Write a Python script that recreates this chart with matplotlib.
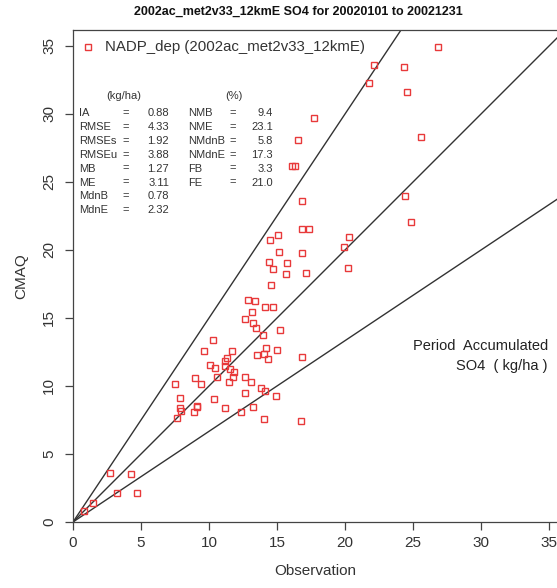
"""
CMAQ vs NADP scatter — period accumulated SO4 deposition, 2002.
"""

import matplotlib
matplotlib.use("Agg")
import matplotlib.pyplot as plt
import numpy as np

plt.rcParams['font.family'] = ['Liberation Sans', 'DejaVu Sans']

# -----------------------------------------------------------------------
# Data
# -----------------------------------------------------------------------
obs = [0.81, 1.49, 2.72, 4.24, 3.26, 4.73,
       7.50, 7.89, 7.89, 7.92, 7.62, 9.00, 9.44, 9.09, 9.15, 8.90,
       10.29, 9.63, 10.05, 10.47, 10.59, 10.34, 11.20, 11.15, 11.32, 11.15,
       11.54, 11.72, 11.86, 11.79, 11.50, 12.35, 12.67, 13.11, 12.65, 13.21,
       13.82, 14.09, 14.02, 14.95, 15.02, 13.51, 14.04, 14.19, 14.36, 13.97,
       15.20, 13.43, 13.21, 12.67, 13.16, 12.87, 13.40, 14.12, 14.68, 14.58,
       14.73, 14.43, 15.71, 15.66, 15.15, 14.51, 15.10, 16.84, 17.38, 16.84,
       17.11, 16.84, 16.74, 16.84, 20.27, 19.95, 20.22,
       26.84, 22.13, 24.34, 21.79, 24.53, 17.75, 25.61, 16.52, 16.13, 16.35,
       24.39, 24.88]
cmaq = [0.83, 1.42, 3.63, 3.53, 2.11, 2.11,
        10.17, 9.14, 8.41, 8.14, 7.67, 10.61, 10.17, 8.53, 8.47, 8.09,
        13.41, 12.57, 11.57, 11.35, 10.69, 9.02, 8.41, 11.86, 12.06, 11.45,
        11.23, 12.57, 11.00, 10.69, 10.29, 8.07, 10.64, 10.29, 9.49, 8.48,
        9.83, 9.66, 7.55, 9.24, 12.62, 12.28, 12.33, 12.79, 12.01, 13.75,
        14.14, 14.29, 14.66, 14.95, 15.42, 16.32, 16.23, 15.83, 15.83, 17.45,
        18.58, 19.12, 19.02, 18.26, 19.85, 20.71, 21.08, 21.52, 21.54, 19.80,
        18.33, 12.13, 7.40, 23.58, 20.96, 20.24, 18.68,
        34.90, 33.60, 33.43, 32.30, 31.64, 29.68, 28.33, 28.06, 26.20, 26.20,
        23.99, 22.08]

ref_slopes = [1.5, 1.0, 1 / 1.5]

stats_left_names = ["IA", "RMSE", "RMSEs", "RMSEu", "MB", "ME", "MdnB", "MdnE"]
stats_left_vals = ["0.88", "4.33", "1.92", "3.88", "1.27", "3.11", "0.78", "2.32"]
stats_right_names = ["NMB", "NME", "NMdnB", "NMdnE", "FB", "FE"]
stats_right_vals = ["9.4", "23.1", "5.8", "17.3", "3.3", "21.0"]

title = "2002ac_met2v33_12kmE SO4 for 20020101 to 20021231"
legend_label = "NADP_dep (2002ac_met2v33_12kmE)"

# -----------------------------------------------------------------------
# Plot
# -----------------------------------------------------------------------
W, H = 557, 588
fig = plt.figure(figsize=(W / 100, H / 100), dpi=100)
ax = fig.add_axes([73 / W, 66 / H, 1 - 73 / W, 492 / H])

text_col = "#333333"
red = "#e8393a"

ax.set_xlim(0, (W - 73) / 13.6)
ax.set_ylim(0, 492 / 13.6)

xx = np.array([0, 40])
for s in ref_slopes:
    ax.plot(xx, s * xx, color="#333333", lw=1.0, zorder=1)

ax.plot(obs, cmaq, ls="none", marker="s", ms=4.8, mfc="none",
        mec=red, mew=1.0, zorder=3)

ax.spines["right"].set_visible(False)
for sp in ["left", "bottom", "top"]:
    ax.spines[sp].set_color("#444444")
    ax.spines[sp].set_linewidth(0.9)

ticks = np.arange(0, 36, 5)
ax.set_xticks(ticks)
ax.set_yticks(ticks)
ax.set_yticklabels([str(t) for t in ticks], rotation=90, va="center")
ax.tick_params(direction="out", length=6, width=0.9, colors="#444444",
               labelcolor=text_col, labelsize=11, pad=4)
ax.tick_params(axis="y", pad=6)

ax.set_xlabel("Observation", fontsize=11, color=text_col, labelpad=10)
ax.set_ylabel("CMAQ", fontsize=11, color=text_col, labelpad=10)

fig.text(298 / W, 1 - 12 / H, title, ha="center", va="center",
         fontsize=9, fontweight="bold", color="#111111")

# legend entry
def px(x, y):
    return x / W, 1 - y / H

fig.lines.append(plt.Line2D([px(88, 47)[0]], [px(88, 47)[1]], ls="none",
                            marker="s", ms=5, mfc="none", mec=red, mew=1.0,
                            transform=fig.transFigure))
fig.text(*px(105, 47), legend_label, ha="left", va="center",
         fontsize=10.8, color=text_col)

# stats table
fs = 8
fig.text(*px(124, 96), "(kg/ha)", ha="center", va="center", fontsize=fs, color=text_col)
fig.text(*px(234, 96), "(%)", ha="center", va="center", fontsize=fs, color=text_col)
for i, (n, v) in enumerate(zip(stats_left_names, stats_left_vals)):
    y = 113 + i * 13.9
    fig.text(*px(79, y), n, ha="left", va="center", fontsize=fs, color=text_col)
    fig.text(*px(126, y), "=", ha="center", va="center", fontsize=fs, color=text_col)
    fig.text(*px(169, y), v, ha="right", va="center", fontsize=fs, color=text_col)
for i, (n, v) in enumerate(zip(stats_right_names, stats_right_vals)):
    y = 113 + i * 13.9
    fig.text(*px(188, y), n, ha="left", va="center", fontsize=fs, color=text_col)
    fig.text(*px(233, y), "=", ha="center", va="center", fontsize=fs, color=text_col)
    fig.text(*px(273, y), v, ha="right", va="center", fontsize=fs, color=text_col)

fig.text(*px(548, 346), "Period  Accumulated", ha="right", va="center",
         fontsize=10.5, color="#222222")
fig.text(*px(547, 366), "SO4  ( kg/ha )", ha="right", va="center",
         fontsize=10.5, color="#222222")

fig.savefig("out.png", dpi=100)
